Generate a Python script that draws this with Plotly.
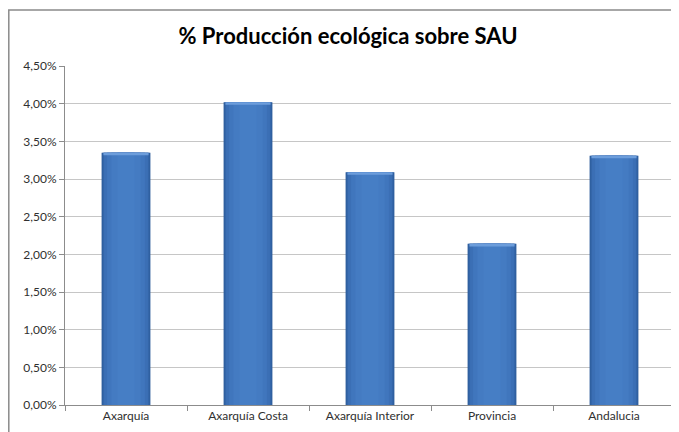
import plotly.graph_objects as go

categories = ["Axarquía", "Axarquía Costa", "Axarquía Interior", "Provincia", "Andalucia"]
values = [0.0335, 0.0402, 0.0309, 0.0214, 0.0331]
tick_vals = [0, 0.005, 0.01, 0.015, 0.02, 0.025, 0.03, 0.035, 0.04, 0.045]

W, H = 671, 424  # page body has an 8px margin

fig = go.Figure()
# layered bars to imitate the horizontal gradient
layers = [(0.40, "#2C5B99"), (0.385, "#3466A9"), (0.36, "#3B6FB5"), (0.31, "#4076BD"),
          (0.24, "#447BC2"), (0.14, "#467EC5")]
for w, c in layers:
    fig.add_trace(go.Bar(x=categories, y=values, width=w, marker=dict(color=c, line=dict(width=0)),
                         hoverinfo="skip", showlegend=False))

# top bevel highlight
bevel = 0.00035
fig.add_trace(go.Bar(x=categories, y=[bevel] * len(values), base=[v - bevel for v in values],
                     width=0.37, marker=dict(color="#6C9DDB", line=dict(width=0)),
                     hoverinfo="skip", showlegend=False))

fig.update_layout(
    barmode="overlay",
    width=W, height=H,
    margin=dict(l=57, r=4, t=58, b=27),
    paper_bgcolor="white", plot_bgcolor="white",
    separators=",.",
    font=dict(family="Lato, Carlito, sans-serif", size=12, color="#404040"),
    title=dict(text="<b>% Producción ecológica sobre SAU</b>", x=340 / W, xanchor="center",
               y=1 - 28 / H, yanchor="middle", yref="container",
               font=dict(family="Lato, sans-serif", size=22, color="#000000")),
    showlegend=False,
)
fig.update_xaxes(type="category", showline=True, linecolor="#8C8C8C", linewidth=1,
                 ticks="outside", tickson="boundaries", ticklen=5, tickcolor="#8C8C8C",
                 showgrid=False, tickfont=dict(size=12, color="#303030"))
fig.update_yaxes(range=[0, 0.045], tickvals=tick_vals, tickformat=".2%",
                 showline=True, linecolor="#8C8C8C", linewidth=1,
                 ticks="outside", ticklen=5, tickcolor="#8C8C8C",
                 showgrid=True, gridcolor="#C6C6C6", gridwidth=1, zeroline=False,
                 tickfont=dict(size=12, color="#303030"))

pw = W - 57 - 4
ph = H - 58 - 27
fig.add_shape(type="rect", xref="paper", yref="paper",
              x0=(0.8 - 57) / pw, x1=1.2, y0=-0.3, y1=(H - 27 - 2) / ph,
              line=dict(color="#8A8A8A", width=1.5), fillcolor="rgba(0,0,0,0)", layer="below")

fig.write_html("out.html")
